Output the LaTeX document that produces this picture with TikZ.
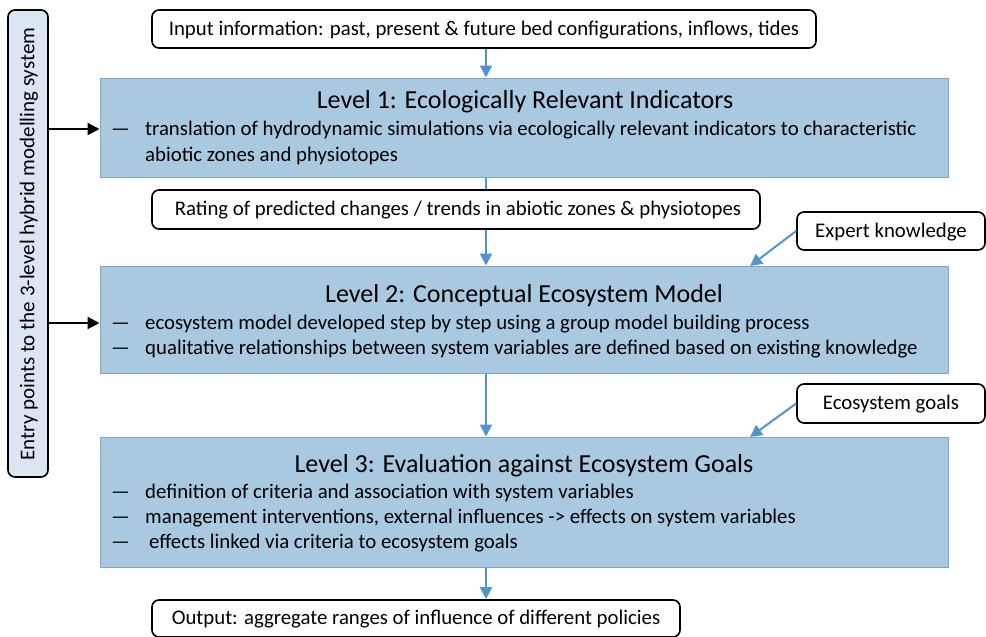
\documentclass[tikz,border=0pt]{standalone}
\usepackage{fontspec}
\setmainfont{Carlito}
\usetikzlibrary{arrows.meta,calc}
\definecolor{lvfill}{RGB}{169,201,225}
\definecolor{lvdraw}{RGB}{125,165,205}
\definecolor{arblue}{RGB}{84,147,206}
\definecolor{entryfill}{RGB}{220,230,242}
\tikzset{
  infobox/.style={draw=black,line width=1.6pt,rounded corners=7pt,fill=white,inner sep=0pt},
  levelbox/.style={draw=lvdraw,line width=1pt,fill=lvfill,inner sep=0pt},
  leveltitle/.style={font=\fontsize{26}{28}\selectfont,inner sep=0pt},
  bullettext/.style={font=\fontsize{20.8}{26}\selectfont,inner sep=0pt,anchor=west,align=left},
  dashmark/.style={font=\fontsize{20.8}{26}\selectfont,inner sep=0pt,anchor=west},
  infotext/.style={font=\fontsize{20.8}{22}\selectfont,inner sep=0pt},
  bluearrow/.style={draw=arblue,line width=2pt,-{Triangle[length=12pt,width=12pt]}},
  blueline/.style={draw=arblue,line width=2pt},
  blackarrow/.style={draw=black,line width=2pt,-{Triangle[length=12pt,width=12pt]}},
}
\begin{document}
\begin{tikzpicture}[x=1pt,y=-1pt]
\useasboundingbox (0,0) rectangle (986,637);
% left entry box
\node[infobox,fill=entryfill,minimum width=40pt,minimum height=467pt] (entry) at (28,243.5) {};
\node[rotate=90,font=\fontsize{21}{22}\selectfont,inner sep=0pt] (entrytxt) at (29,244) {Entry points to the 3-level hybrid modelling system};
% input
\node[infobox,minimum width=664pt,minimum height=38pt] (input) at (484,29) {};
\node[infotext] (inputtxt) at (484,30) {Input information: past, present \& future bed configurations, inflows, tides};
% level 1
\node[levelbox,minimum width=848pt,minimum height=99pt] (L1) at (524,127.5) {};
\node[leveltitle] (L1t) at (525,102) {Level 1: Ecologically Relevant Indicators};
\node[dashmark] (L1b1) at (111,132) {—};
\node[bullettext] (L1a) at (145,143) {translation of hydrodynamic simulations via ecologically relevant indicators to characteristic\\abiotic zones and physiotopes};
% rating
\node[infobox,minimum width=608pt,minimum height=39pt] (rating) at (456,209.5) {};
\node[infotext] (ratingtxt) at (458,210.5) {Rating of predicted changes / trends in abiotic zones \& physiotopes};
% expert knowledge
\node[infobox,minimum width=188pt,minimum height=38pt] (expert) at (891,231) {};
\node[infotext] (experttxt) at (891,232) {Expert knowledge};
% level 2
\node[levelbox,minimum width=848pt,minimum height=107pt] (L2) at (524,319.5) {};
\node[leveltitle] (L2t) at (524,296) {Level 2: Conceptual Ecosystem Model};
\node[dashmark] (L2b1) at (111,326) {—};
\node[dashmark] (L2b2) at (111,351) {—};
\node[bullettext] (L2a) at (145,324) {ecosystem model developed step by step using a group model building process};
\node[bullettext] (L2c) at (145,349) {qualitative relationships between system variables are defined based on existing knowledge};
% ecosystem goals
\node[infobox,minimum width=188pt,minimum height=39pt] (goals) at (891,403.5) {};
\node[infotext] (goalstxt) at (891,404.5) {Ecosystem goals};
% level 3
\node[levelbox,minimum width=848pt,minimum height=130pt] (L3) at (524,502) {};
\node[leveltitle] (L3t) at (524,466) {Level 3: Evaluation against Ecosystem Goals};
\node[dashmark] (L3b1) at (111,495) {—};
\node[dashmark] (L3b2) at (111,520) {—};
\node[dashmark] (L3b3) at (111,545) {—};
\node[bullettext] (L3a) at (145,493) {definition of criteria and association with system variables};
\node[bullettext] (L3c) at (145,518) {management interventions, external influences -> effects on system variables};
\node[bullettext] (L3d) at (149,543) {effects linked via criteria to ecosystem goals};
% output
\node[infobox,minimum width=528pt,minimum height=37pt] (output) at (416,618.5) {};
\node[infotext] (outputtxt) at (416,619) {Output: aggregate ranges of influence of different policies};
% connectors
\coordinate (col) at (486,0);
\coordinate (e1) at (0,129);
\coordinate (e2) at (0,323);
\draw[bluearrow] (col |- input.south) -- (col |- L1.north);
\draw[blueline] (col |- L1.south) -- (col |- rating.north);
\draw[bluearrow] (col |- rating.south) -- (col |- L2.north);
\draw[bluearrow] (col |- L2.south) -- (col |- L3.north);
\draw[bluearrow] (col |- L3.south) -- (col |- output.north);
\coordinate (ekend) at (750,266);
\coordinate (egend) at (750,437);
\draw[bluearrow] (expert.west) -- (ekend);
\draw[bluearrow] (goals.west) -- (egend);
\draw[blackarrow] (entry.east |- e1) -- (L1.west |- e1);
\draw[blackarrow] (entry.east |- e2) -- (L2.west |- e2);
\end{tikzpicture}
\end{document}
